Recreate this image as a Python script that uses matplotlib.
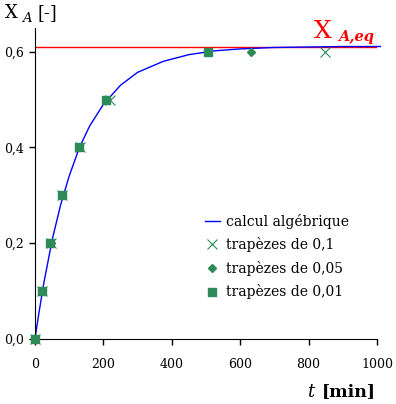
import matplotlib
matplotlib.use("Agg")
from matplotlib import pyplot as plt
from matplotlib.ticker import FuncFormatter

# curve (calcul algebrique)
t_curve = [0, 10, 25, 50, 75, 100, 130, 160, 200, 250, 300, 375, 450, 525, 600, 700, 800, 900, 1010]
x_curve = [0, 0.047, 0.113, 0.206, 0.280, 0.340, 0.400, 0.445, 0.490, 0.530, 0.557, 0.580,
           0.594, 0.602, 0.606, 0.609, 0.610, 0.611, 0.611]

# trapezes de 0,1
t_01 = [0, 21, 47, 80, 131, 218, 848]
x_01 = [0, 0.1, 0.2, 0.3, 0.4, 0.5, 0.6]
# trapezes de 0,05
t_005 = [0, 20, 46, 79, 129, 209, 631]
x_005 = [0, 0.1, 0.2, 0.3, 0.4, 0.5, 0.6]
# trapezes de 0,01
t_001 = [0, 19, 45, 78, 128, 208, 506]
x_001 = [0, 0.1, 0.2, 0.3, 0.4, 0.5, 0.6]

x_eq = 0.611

green = "#2e8b57"
plt.rcParams['font.family'] = ['DejaVu Serif']

fig = plt.figure(figsize=(3.96, 4.04), dpi=100)
ax = fig.add_axes([0.0884, 0.162, 0.8636, 0.769])

ax.axhline(x_eq, color="red", lw=1.0, zorder=1)
ax.plot(t_curve, x_curve, color="blue", lw=1.0, label="calcul algébrique", zorder=2, clip_on=False)
ax.plot(t_01, x_01, ls="none", marker="x", ms=7, mew=0.8, color=green,
        label="trapèzes de 0,1", zorder=3, clip_on=False)
ax.plot(t_005, x_005, ls="none", marker="D", ms=4.5, color=green,
        label="trapèzes de 0,05", zorder=4, clip_on=False)
ax.plot(t_001, x_001, ls="none", marker="s", ms=5.5, color=green,
        label="trapèzes de 0,01", zorder=5, clip_on=False)

ax.set_xlim(0, 1000)
ax.set_ylim(0, 0.65)
ax.set_xticks([0, 200, 400, 600, 800, 1000])
ax.set_yticks([0, 0.2, 0.4, 0.6])
ax.yaxis.set_major_formatter(FuncFormatter(lambda v, p: ("%.1f" % v).replace(".", ",")))
ax.spines["top"].set_visible(False)
ax.spines["right"].set_visible(False)
ax.tick_params(direction="out", length=4, width=1, labelsize=9)
ax.tick_params(axis="x", pad=10)
ax.tick_params(axis="y", pad=4)

leg = ax.legend(loc="upper left", bbox_to_anchor=(0.48, 0.42), frameon=False,
                fontsize=10, handlelength=1.1, handletextpad=0.4,
                labelspacing=0.62, borderaxespad=0)

fig.text(0.012, 0.968, "X", fontsize=13, va="center", ha="left")
fig.text(0.055, 0.955, "A", fontsize=9.5, style="italic", va="center", ha="left")
fig.text(0.095, 0.968, "[-]", fontsize=13, va="center", ha="left")

fig.text(0.793, 0.923, "X", fontsize=18, color="red", va="center", ha="left")
fig.text(0.853, 0.908, "A,eq", fontsize=10.5, color="red", style="italic",
         fontweight="bold", va="center", ha="left")

fig.text(0.775, 0.03, "t", fontsize=13, style="italic", va="center", ha="left")
fig.text(0.812, 0.03, "[min]", fontsize=12.5, fontweight="bold", va="center", ha="left")

plt.savefig("out.png", dpi=100)
